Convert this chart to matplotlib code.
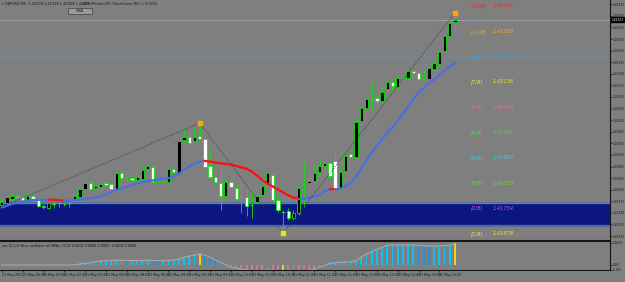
import matplotlib
matplotlib.use("Agg")
import matplotlib.pyplot as plt
from matplotlib.patches import Rectangle
from matplotlib.collections import LineCollection

# GBPUSD M5 candles
opens = [1.41764, 1.41769, 1.41782, 1.41792, 1.41787, 1.41777, 1.41792, 1.41781, 1.41761, 1.41756,
         1.41769, 1.41769, 1.41767, 1.41769, 1.41779, 1.41789, 1.41811, 1.41829, 1.41814, 1.41819,
         1.41831, 1.41826, 1.41811, 1.41860, 1.41845, 1.41845, 1.41839, 1.41843, 1.41872, 1.41880,
         1.41832, 1.41834, 1.41834, 1.41873, 1.41858, 1.41960, 1.41970, 1.41958, 1.41972, 1.41963,
         1.41882, 1.41848, 1.41831, 1.41792, 1.41834, 1.41814, 1.41787, 1.41787, 1.41763, 1.41774,
         1.41794, 1.41829, 1.41854, 1.41779, 1.41744, 1.41746, 1.41724, 1.41739, 1.41827, 1.41829,
         1.41837, 1.41864, 1.41882, 1.41892, 1.41898, 1.41814, 1.41867, 1.41917, 1.41910, 1.42018,
         1.42056, 1.42086, 1.42088, 1.42079, 1.42114, 1.42136, 1.42119, 1.42146, 1.42146, 1.42169,
         1.42162, 1.42143, 1.42144, 1.42176, 1.42190, 1.42230, 1.42274, 1.42317]
highs = [1.41782, 1.41794, 1.41797, 1.41799, 1.41794, 1.41800, 1.41800, 1.41785, 1.41767, 1.41773,
         1.41774, 1.41779, 1.41773, 1.41779, 1.41794, 1.41815, 1.41833, 1.41839, 1.41824, 1.41838,
         1.41836, 1.41830, 1.41867, 1.41865, 1.41851, 1.41851, 1.41854, 1.41874, 1.41886, 1.41885,
         1.41842, 1.41841, 1.41876, 1.41877, 1.41963, 1.41996, 1.41984, 1.41996, 1.42011, 1.41968,
         1.41933, 1.41851, 1.41900, 1.41842, 1.41845, 1.41821, 1.41839, 1.41819, 1.41809, 1.41797,
         1.41827, 1.41864, 1.41864, 1.41785, 1.41749, 1.41755, 1.41749, 1.41818, 1.41895, 1.41851,
         1.41882, 1.41900, 1.41906, 1.41897, 1.41935, 1.41870, 1.41918, 1.41921, 1.42021, 1.42060,
         1.42087, 1.42132, 1.42093, 1.42117, 1.42153, 1.42141, 1.42150, 1.42153, 1.42175, 1.42173,
         1.42166, 1.42172, 1.42184, 1.42199, 1.42232, 1.42280, 1.42320, 1.42345]
lows = [1.41758, 1.41764, 1.41776, 1.41785, 1.41773, 1.41773, 1.41776, 1.41757, 1.41752, 1.41752,
        1.41754, 1.41759, 1.41761, 1.41758, 1.41773, 1.41785, 1.41808, 1.41808, 1.41811, 1.41815,
        1.41820, 1.41808, 1.41808, 1.41842, 1.41836, 1.41835, 1.41836, 1.41839, 1.41867, 1.41830,
        1.41829, 1.41830, 1.41830, 1.41860, 1.41854, 1.41957, 1.41948, 1.41954, 1.41960, 1.41876,
        1.41845, 1.41829, 1.41749, 1.41785, 1.41815, 1.41776, 1.41739, 1.41729, 1.41724, 1.41770,
        1.41788, 1.41824, 1.41773, 1.41743, 1.41678, 1.41719, 1.41719, 1.41735, 1.41759, 1.41824,
        1.41833, 1.41860, 1.41864, 1.41845, 1.41811, 1.41811, 1.41864, 1.41906, 1.41906, 1.42015,
        1.42051, 1.42051, 1.42057, 1.42075, 1.42108, 1.42105, 1.42114, 1.42141, 1.42141, 1.42156,
        1.42138, 1.42138, 1.42140, 1.42172, 1.42185, 1.42226, 1.42270, 1.42292]
closes = [1.41774, 1.41789, 1.41791, 1.41789, 1.41777, 1.41792, 1.41781, 1.41761, 1.41757, 1.41769,
          1.41767, 1.41769, 1.41767, 1.41769, 1.41791, 1.41811, 1.41829, 1.41811, 1.41821, 1.41826,
          1.41823, 1.41811, 1.41861, 1.41846, 1.41845, 1.41839, 1.41849, 1.41870, 1.41882, 1.41834,
          1.41836, 1.41834, 1.41873, 1.41864, 1.41958, 1.41970, 1.41952, 1.41970, 1.41963, 1.41880,
          1.41849, 1.41833, 1.41791, 1.41832, 1.41819, 1.41781, 1.41787, 1.41761, 1.41763, 1.41792,
          1.41821, 1.41861, 1.41779, 1.41749, 1.41744, 1.41724, 1.41739, 1.41814, 1.41827, 1.41837,
          1.41861, 1.41882, 1.41892, 1.41851, 1.41814, 1.41864, 1.41912, 1.41910, 1.42015, 1.42056,
          1.42083, 1.42086, 1.42079, 1.42104, 1.42136, 1.42123, 1.42146, 1.42146, 1.42169, 1.42162,
          1.42143, 1.42143, 1.42177, 1.42194, 1.42227, 1.42274, 1.42314, 1.42323]
sma = [1.41756, 1.41762, 1.41767, 1.41771, 1.41774, 1.41777, 1.41779, 1.41780, 1.41780, 1.41780,
       1.41779, 1.41778, 1.41777, 1.41777, 1.41779, 1.41780, 1.41782, 1.41784, 1.41786, 1.41790,
       1.41796, 1.41803, 1.41809, 1.41814, 1.41819, 1.41824, 1.41829, 1.41833, 1.41836, 1.41838,
       1.41841, 1.41842, 1.41845, 1.41850, 1.41858, 1.41870, 1.41880, 1.41889, 1.41894, 1.41897,
       1.41895, 1.41892, 1.41890, 1.41888, 1.41886, 1.41882, 1.41877, 1.41873, 1.41865, 1.41853,
       1.41839, 1.41829, 1.41820, 1.41811, 1.41802, 1.41793, 1.41786, 1.41783, 1.41783, 1.41786,
       1.41790, 1.41794, 1.41805, 1.41812, 1.41811, 1.41813, 1.41821, 1.41830, 1.41848, 1.41873,
       1.41898, 1.41921, 1.41942, 1.41963, 1.41981, 1.41998, 1.42018, 1.42039, 1.42060, 1.42082,
       1.42104, 1.42117, 1.42131, 1.42143, 1.42156, 1.42170, 1.42182, 1.42193]

# oscillator histogram (x 0.00001)
osc = [0, 0, 0, 0, 0, 0, 0, 0, 0, 0,
       0, 0, 0, 0, 0.3, 1.0, 1.7, 2.3, 3.3, 4.0,
       4.3, 4.5, 4.7, 4.7, 4.5, 4.5, 4.5, 4.5, 4.7, 4.5,
       4.3, 4.3, 4.5, 5.0, 5.7, 7.7, 9.0, 10.0, 11.0, 10.0,
       7.7, 5.0, 2.3, 0.3, -2.3, -3.3, -4.3, -5.0, -5.7, -5.7,
       -5.3, -5.0, -5.3, -5.7, -6.0, -7.0, -7.7, -7.7, -7.0, -5.0,
       -4.3, -2.0, -0.5, 1.7, 2.3, 2.7, 3.0, 3.3, 4.3, 7.7,
       11.0, 13.3, 15.7, 17.7, 19.7, 20.0, 20.0, 20.0, 20.0, 20.0,
       19.7, 19.3, 19.0, 19.0, 19.0, 19.3, 20.0, 21.7]
osc_pivots = [38, 54, 87]

zz_idx = [0, 38, 54, 87]
zz_price = [1.41758, 1.42011, 1.41678, 1.42345]

level_names = ["[+2/8]", "[+1/8]", "[8/8]", "[7/8]", "[6/8]", "[5/8]", "[4/8]", "[3/8]", "[2/8]", "[1/8]"]
level_prices = [1.42365, 1.42288, 1.42212, 1.42136, 1.42059, 1.41982, 1.41907, 1.41830, 1.41754, 1.41678]
level_colors = ["#ff2020", "#ffa020", "#30a8e8", "#e8e830", "#e070b0", "#40e040", "#30d8e8", "#70d040", "#e050d0", "#e8e830"]
band_low, band_high = 1.41703, 1.41769
bid = 1.42323

price_ticks = [1.41670 + 0.00035 * k for k in range(21)]
time_idx = list(range(0, 88, 4))
time_labels = ["21 May 2021"] + ["21 May %02d:%02d" % divmod(6 * 60 + 20 + 5 * i, 60) for i in time_idx[1:]]

bg = "#7f7f7f"
ink = "#151515"
fig = plt.figure(figsize=(6.25, 2.82), dpi=100, facecolor=bg)
ax = fig.add_axes([0, 42 / 282, 610 / 625, 240 / 282], facecolor=bg)
ax2 = fig.add_axes([0, 12 / 282, 610 / 625, 29 / 282], facecolor=bg)

xmin, xmax = -0.33, -0.33 + 610 / 5.21
ax.set_xlim(xmin, xmax)
ax.set_ylim(1.41658, 1.42383)

ax.axhspan(band_low, band_high, color="#0b1680", zorder=0)
ax.axhline(band_high, color="#2b90d8", lw=1.0, zorder=1)
ax.axhline(band_low, color="#2b70c8", lw=1.0, zorder=1)
ax.axhline(level_prices[2], color="#30a0d8", lw=0.9, zorder=1)
ax.axhline(bid, color="#a0a6ac", lw=0.6, zorder=1)

green = "#10e010"
for i in range(len(opens)):
    o, h, l, c = opens[i], highs[i], lows[i], closes[i]
    ax.vlines(i, l, h, color=green, lw=0.6, zorder=3)
    if c == o:
        ax.hlines(o, i - 0.32, i + 0.32, color=green, lw=0.8, zorder=4)
    else:
        fc = "black" if c > o else "white"
        ax.add_patch(Rectangle((i - 0.32, min(o, c)), 0.64, abs(c - o), facecolor=fc,
                               edgecolor=green, lw=0.6, zorder=4))

segs = [[(i, sma[i]), (i + 1, sma[i + 1])] for i in range(len(sma) - 1)]
cols = ["#ff1010" if sma[i + 1] < sma[i] else "#4a6fe0" for i in range(len(sma) - 1)]
ax.add_collection(LineCollection(segs, colors=cols, linewidths=1.6, zorder=5, capstyle="round"))

ax.plot(zz_idx, zz_price, color="#303030", lw=0.6, ls=(0, (1, 1.5)), zorder=6)
ax.scatter([zz_idx[1], zz_idx[3]], [zz_price[1], zz_price[3]], s=5, marker="s", color="#ffa500", zorder=7)
ax.scatter([zz_idx[2]], [zz_price[2]], s=5, marker="s", color="#d0f020", zorder=7)

for name, p, col in zip(level_names, level_prices, level_colors):
    ax.text(0.772, p, name, color=col, fontsize=3.7, style="italic", va="center",
            transform=ax.get_yaxis_transform(), zorder=8)
    ax.text(0.808, p, "%.5f" % p, color=col, fontsize=3.7, style="italic", va="center",
            transform=ax.get_yaxis_transform(), zorder=8)

ax.yaxis.tick_right()
ax.set_yticks(price_ticks)
ax.set_yticklabels(["%.5f" % t for t in price_ticks])
ax.tick_params(axis="y", length=1.2, width=0.5, labelsize=2.1, labelcolor=ink, color=ink, pad=0.5)
ax.set_xticks([])
for s in ["top", "left"]:
    ax.spines[s].set_visible(False)
for s in ["right", "bottom"]:
    ax.spines[s].set_color(ink)
    ax.spines[s].set_linewidth(0.8)
ax.text(1.002, bid, "%.5f" % bid, transform=ax.get_yaxis_transform(), fontsize=2.1, color="white",
        va="center", ha="left", clip_on=False,
        bbox=dict(boxstyle="square,pad=0.2", fc="black", ec="black"))

# oscillator pane
ax2.set_xlim(xmin, xmax)
ax2.set_ylim(-5, 24)
bar_cols = []
for i, v in enumerate(osc):
    if i in osc_pivots:
        bar_cols.append("#f0d020")
    elif v >= 0:
        bar_cols.append("#10c0f0" if i == 0 or v >= osc[i - 1] else "#2090d8")
    else:
        bar_cols.append("#d870a0")
ax2.bar(range(len(osc)), osc, width=0.35, color=bar_cols, zorder=2)
ax2.plot(range(len(osc)), osc, color="#a8a8a8", lw=0.8, zorder=3)
ax2.yaxis.tick_right()
ax2.set_yticks([22.5, 0, -4.5])
ax2.set_yticklabels(["0.0013", "0.00", "-0.001"])
ax2.tick_params(axis="y", length=1.2, width=0.5, labelsize=2.1, labelcolor=ink, color=ink, pad=0.5)
ax2.set_xticks(time_idx)
ax2.set_xticklabels(time_labels, ha="left")
ax2.tick_params(axis="x", length=1.5, width=0.5, labelsize=2.3, labelcolor=ink, color=ink, pad=1)
ax2.spines["left"].set_visible(False)
for s in ["right", "bottom", "top"]:
    ax2.spines[s].set_color(ink)
    ax2.spines[s].set_linewidth(0.8)
ax2.text(0.003, 0.93, "osc (5,1,5) Blue oscillator of SMAs | 0.00 0.0004 0.0004 0.0003 -0.0004 0.0003",
         transform=ax2.transAxes, fontsize=2.4, color=ink, va="top")

fig.text(2 / 625, 1 - 4 / 282, "\u25be GBPUSD,M5  1.42309 1.42318 1.42309 1.42314", fontsize=2.5,
         color=ink, va="center")
fig.text(83 / 625, 1 - 4 / 282, "ATR (Period 20) (TimeFrame H4) = 0.0032", fontsize=2.5,
         color=ink, va="center")
fig.patches.append(Rectangle((68 / 625, 1 - 14 / 282), 24 / 625, 6 / 282, transform=fig.transFigure,
                             fc="#9a9a9a", ec="#404040", lw=0.5))
fig.text(80 / 625, 1 - 11 / 282, "SMA", fontsize=2.6, color=ink, ha="center", va="center")

fig.savefig("out.png", dpi=100, facecolor=bg)
